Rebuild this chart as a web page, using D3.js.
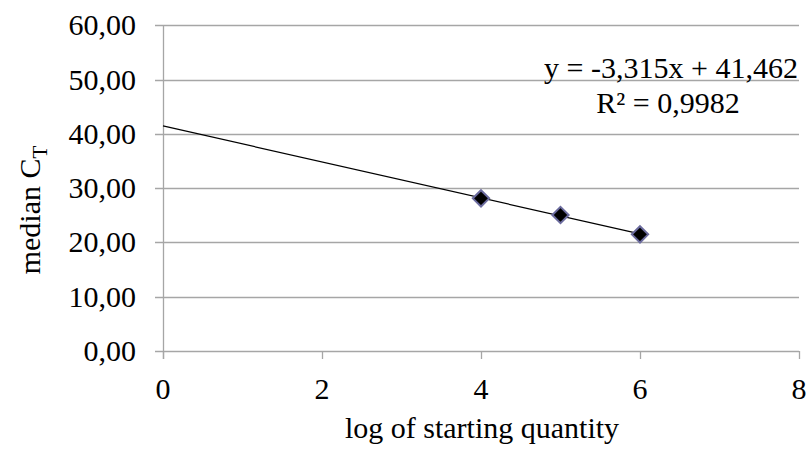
<!DOCTYPE html>
<html>
<head>
<meta charset="utf-8">
<script src="https://cdn.jsdelivr.net/npm/d3@7"></script>
<style>
  html, body { margin: 0; padding: 0; background: #fff; }
</style>
</head>
<body>
<svg id="chart" width="809" height="450"></svg>
<script>
// Data
const logQuantity = [4, 5, 6];
const medianCT = [28.12, 25.05, 21.49];
const xTicks = [0, 2, 4, 6, 8];
const yTicks = [0, 10, 20, 30, 40, 50, 60];
const equationLabel = "y = -3,315x + 41,462";
const r2Label = "R² = 0,9982";
const xTitle = "log of starting quantity";
const yTitle = "median C";
const yTitleSub = "T";

const FONT = "'Liberation Serif', 'DejaVu Serif', serif";
const svg = d3.select("#chart");
const x = d3.scaleLinear().domain([0, 8]).range([163, 799]);
const y = d3.scaleLinear().domain([0, 60]).range([351, 25.3]);
const fmtY = v => d3.format(".2f")(v).replace(".", ",");
const gridColor = "#a6a6a6";

function txt(sel) {
  return sel.style("font-family", FONT).attr("font-family", FONT).attr("fill", "#000");
}

// Gridlines (extend left as tick marks)
svg.append("g").selectAll("line").data(yTicks).join("line")
  .attr("x1", 155).attr("x2", x(8))
  .attr("y1", d => Math.round(y(d)) + 0.5).attr("y2", d => Math.round(y(d)) + 0.5)
  .attr("stroke", gridColor).attr("stroke-width", 1.3);

// Y axis line
svg.append("line")
  .attr("x1", Math.round(x(0)) + 0.5).attr("x2", Math.round(x(0)) + 0.5)
  .attr("y1", y(60)).attr("y2", y(0) + 8)
  .attr("stroke", gridColor).attr("stroke-width", 1.3);

// X tick marks
svg.append("g").selectAll("line").data(xTicks).join("line")
  .attr("x1", d => Math.round(x(d)) + 0.5).attr("x2", d => Math.round(x(d)) + 0.5)
  .attr("y1", y(0)).attr("y2", y(0) + 8)
  .attr("stroke", gridColor).attr("stroke-width", 1.3);

// Y tick labels
txt(svg.append("g").selectAll("text").data(yTicks).join("text"))
  .attr("x", 136).attr("y", d => y(d) + 10)
  .attr("text-anchor", "end").attr("font-size", 30)
  .text(d => fmtY(d));

// X tick labels
txt(svg.append("g").selectAll("text").data(xTicks).join("text"))
  .attr("x", d => x(d)).attr("y", 399)
  .attr("text-anchor", "middle").attr("font-size", 30)
  .text(d => d);

// Linear regression trendline (backward forecast to 0)
const n = logQuantity.length;
const mx = d3.mean(logQuantity), my = d3.mean(medianCT);
let sxy = 0, sxx = 0;
for (let i = 0; i < n; i++) {
  sxy += (logQuantity[i] - mx) * (medianCT[i] - my);
  sxx += (logQuantity[i] - mx) ** 2;
}
const slope = sxy / sxx, intercept = my - slope * mx;
const trendX = [0, d3.max(logQuantity)];
svg.append("path")
  .attr("d", d3.line().x(d => x(d)).y(d => y(intercept + slope * d))(trendX))
  .attr("stroke", "#000").attr("stroke-width", 1.2).attr("fill", "none");

// Diamond markers
const diamond = d3.symbol().type(d3.symbolDiamond2).size(170);
svg.append("g").selectAll("path").data(logQuantity).join("path")
  .attr("transform", (d, i) => `translate(${x(d)},${y(medianCT[i])})`)
  .attr("d", diamond)
  .attr("fill", "#000").attr("stroke", "#6b6b9e").attr("stroke-width", 2);

// Trendline label
txt(svg.append("text")).attr("x", 671).attr("y", 78)
  .attr("text-anchor", "middle").attr("font-size", 30).text(equationLabel);
txt(svg.append("text")).attr("x", 668).attr("y", 113)
  .attr("text-anchor", "middle").attr("font-size", 30).text(r2Label);

// X axis title
txt(svg.append("text")).attr("x", 482).attr("y", 438)
  .attr("text-anchor", "middle").attr("font-size", 30).text(xTitle);

// Y axis title
const yt = txt(svg.append("text"))
  .attr("transform", `translate(40,210) rotate(-90)`)
  .attr("text-anchor", "middle").attr("font-size", 30);
yt.append("tspan").text(yTitle);
yt.append("tspan").attr("font-size", 21).attr("dy", 7).text(yTitleSub);
</script>
</body>
</html>
